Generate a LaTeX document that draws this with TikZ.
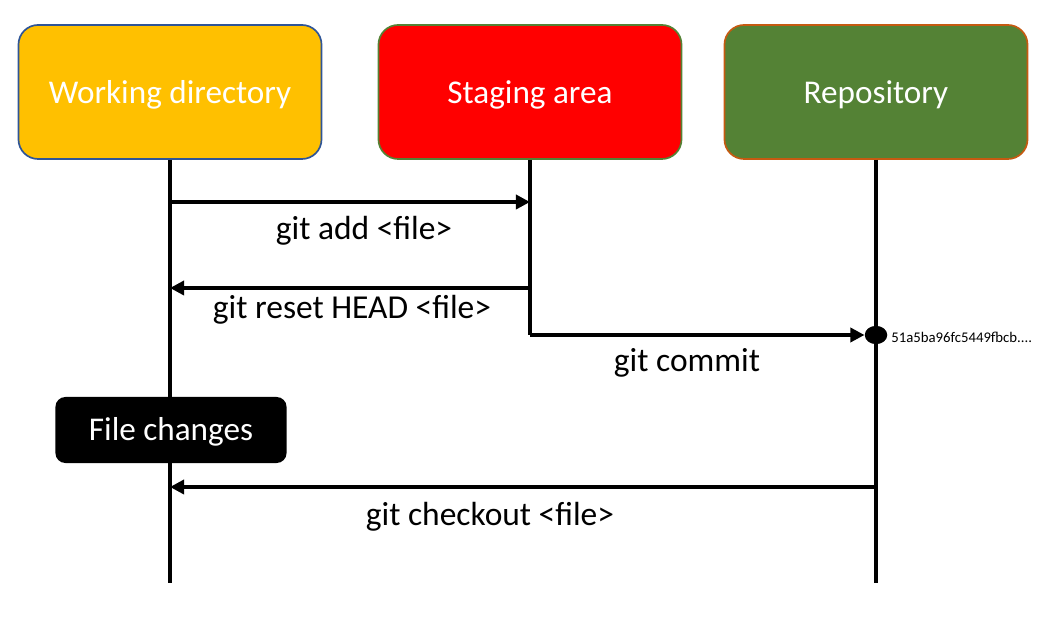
\documentclass[tikz,border=0pt]{standalone}
\usepackage{fontspec}
\setmainfont{Carlito}
\usepackage{tikz}
\usetikzlibrary{arrows.meta, shapes.geometric}
\usepackage{xcolor}
\definecolor{wdfill}{HTML}{FFC000}
\definecolor{wdline}{HTML}{2F5597}
\definecolor{stfill}{HTML}{FF0000}
\definecolor{stline}{HTML}{548235}
\definecolor{rpfill}{HTML}{548235}
\definecolor{rpline}{HTML}{C55A11}

\begin{document}
\begin{tikzpicture}[x=0.025cm, y=-0.025cm,
    area/.style={draw, line width=1.2pt, rounded corners=14pt, minimum width=7.575cm,
                 minimum height=3.35cm, text=white, font=\fontsize{23.6}{28}\selectfont,
                 text depth=0pt},
    life/.style={line width=2.4pt},
    msg/.style={line width=2.4pt, -{Triangle[length=10pt, width=10pt]}},
    lbl/.style={font=\fontsize{23.8}{28}\selectfont}
  ]
    \useasboundingbox (0,0) rectangle (1048,628);

    % Areas
    \node[area, fill=wdfill, draw=wdline] (work) at (170,92)  {Working directory};
    \node[area, fill=stfill, draw=stline] (stage) at (530,92) {Staging area};
    \node[area, fill=rpfill, draw=rpline] (repo) at (876,92)  {Repository};

    % Lifelines
    \coordinate (wend) at (170,583);
    \coordinate (send) at (530,335);
    \coordinate (rend) at (876,583);
    \draw[life] (work.south) -- (wend);
    \draw[life] (stage.south) -- (send);
    \draw[life] (repo.south) -- (rend);

    % File changes
    \node[fill=black, rounded corners=7pt, minimum width=5.775cm, minimum height=1.65cm,
          text=white, font=\fontsize{23.6}{28}\selectfont] (chg) at (171,430) {};
    \node[text=white, font=\fontsize{23.6}{28}\selectfont] (chgtxt) at (171,432) {File changes};

    % git add / git reset
    \coordinate (wadd) at (170,202);
    \coordinate (sadd) at (530,202);
    \draw[msg] (wadd) -- (sadd);
    \node[lbl] (addlbl) at (364,231) {git add <file>};

    \coordinate (sreset) at (530,288);
    \coordinate (wreset) at (170,288);
    \draw[msg] (sreset) -- (wreset);
    \node[lbl] (resetlbl) at (352,310) {git reset HEAD <file>};

    % git commit
    \node[ellipse, fill=black, minimum width=16pt, minimum height=13pt, inner sep=0pt]
      (commit) at (876,335) {};
    \draw[msg] (send) -- (commit.west);
    \node[lbl] (commitlbl) at (687,363) {git commit};
    \node[anchor=west, font=\fontsize{10.5}{12}\selectfont, inner sep=0pt] (hash)
      at (891,337) {51a5ba96fc5449fbcb....};

    % git checkout
    \coordinate (rco) at (876,487);
    \coordinate (wco) at (170,487);
    \draw[msg] (rco) -- (wco);
    \node[lbl] (colbl) at (490,517) {git checkout <file>};
\end{tikzpicture}
\end{document}
